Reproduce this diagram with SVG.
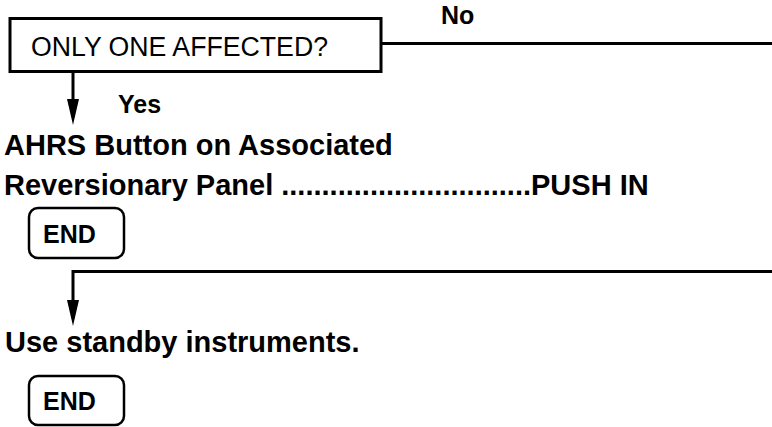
<svg xmlns="http://www.w3.org/2000/svg" width="772" height="427" viewBox="0 0 772 427">
<style>
.t{font-family:"Liberation Sans",Arial,sans-serif;fill:#000}
.b{font-weight:bold}
.ln{fill:none;stroke:#000;stroke-width:3}
.bx{fill:#fff;stroke:#000;stroke-width:3}
.end{fill:#fff;stroke:#000;stroke-width:2.5}
.ah{fill:#000}
</style>
<rect width="772" height="427" fill="#fff"/>
<g id="connectors">
<path class="ln" d="M381,43.5 H772"/>
<path class="ln" d="M73,72 V101"/>
<polygon class="ah" points="67,99 79,99 73,125"/>
<path class="ln" d="M772,271.5 H73 V302"/>
<polygon class="ah" points="67,300 79,300 73,326"/>
<text class="t b" x="441" y="24" font-size="25">No</text>
<text class="t b" x="118" y="113" font-size="25">Yes</text>
</g>
<g id="decision">
<rect class="bx" x="10" y="18.5" width="371" height="53"/>
<text class="t" x="31" y="56" font-size="27" textLength="297" lengthAdjust="spacingAndGlyphs">ONLY ONE AFFECTED?</text>
</g>
<g id="step-ahrs">
<text class="t b" x="4" y="155" font-size="29">AHRS Button on Associated</text>
<text class="t b" x="4" y="195" font-size="29">Reversionary Panel ...............................PUSH IN</text>
</g>
<g id="end1">
<rect class="end" x="29" y="208" width="95" height="50" rx="9"/>
<text class="t b" x="43" y="243" font-size="25">END</text>
</g>
<g id="step-standby">
<text class="t b" x="5" y="352" font-size="29">Use standby instruments.</text>
</g>
<g id="end2">
<rect class="end" x="29" y="376" width="95" height="49" rx="9"/>
<text class="t b" x="43" y="410" font-size="25">END</text>
</g>
</svg>
